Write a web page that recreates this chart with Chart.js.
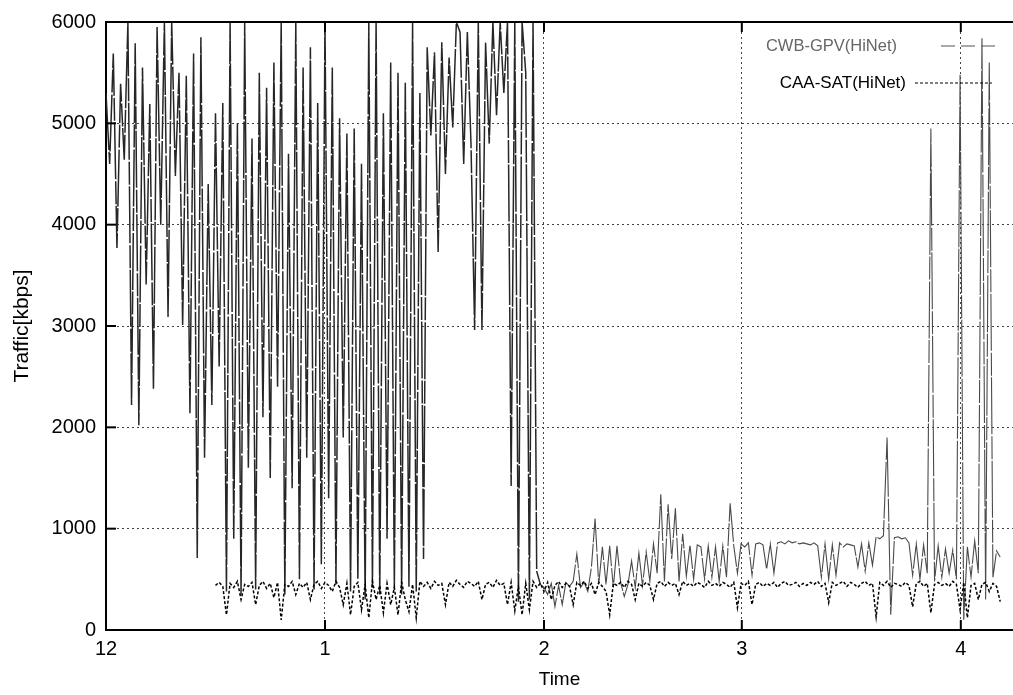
<!DOCTYPE html>
<html>
<head>
<meta charset="utf-8">
<script src="https://cdn.jsdelivr.net/npm/chart.js@4.4.1/dist/chart.umd.min.js"></script>
<style>
  html, body { margin: 0; padding: 0; background: #fff; }
  #c { display: block; }
</style>
</head>
<body>
<canvas id="c" width="1013" height="695"></canvas>
<script>
// time axis: 1 unit ~ 1 minute, ticks are where the clock hours fall
var xTickVals = [0, 60, 120, 174.2, 234.2];
var xTickLabels = ['12', '1', '2', '3', '4'];

// CWB-GPV(HiNet), one sample per unit starting at 0
var cwbStart = 0;
var cwbValues = [
  5300, 4600, 5690, 3770, 5390, 4640, 6000, 2220, 5790, 2020,
  5550, 3410, 5190, 2380, 5950, 4000, 6000, 3090, 6000, 4480,
  5500, 3010, 5470, 2140, 5690, 710, 5850, 1700, 4400, 2220,
  5100, 2600, 5200, 380, 6000, 900, 5000, 350, 6000, 1600,
  4850, 400, 5500, 2100, 5350, 1500, 5600, 2400, 6000, 350,
  4700, 1400, 6000, 500, 5550, 1700, 5750, 400, 5200, 650,
  6000, 1300, 5550, 450, 5050, 1900, 4900, 380, 4950, 500,
  4600, 300, 6000, 420, 6000, 350, 5100, 900, 5600, 400,
  5500, 350, 5400, 420, 6000, 380, 5300, 700, 5750, 4880,
  5700, 3730, 5800, 4500, 5650, 4960, 6000, 5900, 4600, 5900,
  4800, 2960, 6000, 2960, 5800, 4800, 6000, 5080, 6000, 5300,
  6000, 1420, 6000, 280, 6000, 5500, 300, 6000, 580, 450,
  420, 350, 460, 230, 440, 250, 470, 430, 480, 750,
  420, 470, 380, 620, 1100, 450, 820, 450, 830, 420,
  830, 470, 330, 450, 680, 420, 760, 440, 770, 480,
  850, 560, 1340, 480, 1240, 700, 1200, 480, 950, 530,
  840, 500, 840, 820, 500, 830, 520, 820, 480, 830,
  520, 1250, 830, 560, 850, 820, 860, 540, 850, 860,
  840, 600, 850, 560, 860, 870, 850, 880, 860, 870,
  850, 860, 850, 840, 860, 830, 520, 850, 500, 840,
  540, 860, 820, 850, 840, 830, 620, 850, 580, 860,
  640, 920, 900, 930, 1900, 150, 910, 920, 900, 910,
  860, 540, 850, 500, 840, 560, 4950, 480, 830, 520,
  800, 560, 790, 500, 5480, 100, 820, 520, 880, 560,
  5840, 300, 5600, 520, 780, 720
];

// CAA-SAT(HiNet), starts later
var caaStart = 30;
var caaValues = [
  440, 470, 430, 150, 460, 420, 480, 300, 450, 430,
  470, 250, 440, 480, 410, 460, 320, 470, 100, 450,
  430, 480, 350, 460, 420, 470, 300, 450, 480, 410,
  470, 440, 380, 480, 420, 250, 460, 150, 430, 470,
  200, 450, 120, 480, 300, 440, 170, 460, 250, 420,
  150, 470, 300, 180, 450, 120, 480, 430, 470, 410,
  480, 440, 460, 250, 470, 430, 490, 450, 420, 480,
  460, 430, 480, 300, 450, 470, 420, 490, 440, 460,
  250, 470, 190, 430, 150, 460, 200, 480, 420, 460,
  380, 470, 300, 440, 480, 420, 460, 430, 250, 470,
  440, 480, 410, 460, 350, 470, 430, 380, 150, 460,
  440, 470, 420, 480, 450, 300, 460, 430, 470, 440,
  300, 460, 480, 430, 470, 440, 460, 350, 480, 440,
  460, 430, 470, 450, 420, 480, 440, 460, 430, 470,
  450, 420, 470, 220, 460, 440, 480, 250, 450, 470,
  430, 460, 440, 470, 420, 460, 480, 440, 450, 470,
  430, 460, 440, 470, 450, 480, 430, 460, 270, 470,
  440, 460, 480, 430, 470, 450, 420, 460, 480, 440,
  460, 130, 470, 440, 480, 420, 460, 450, 430, 470,
  440, 230, 460, 480, 430, 460, 170, 450, 470, 440,
  460, 430, 480, 450, 200, 470, 120, 440, 460, 300,
  450, 470, 380, 460, 430, 280
];

function toPoints(start, vals) {
  return vals.map(function (v, i) { return { x: start + i, y: v }; });
}

var whiteBg = {
  id: 'whiteBg',
  beforeDraw: function (chart) {
    var ctx = chart.ctx;
    ctx.save();
    ctx.fillStyle = '#fff';
    ctx.fillRect(0, 0, chart.width, chart.height);
    ctx.restore();
  }
};

// frame (no right edge, it is cut off), inward ticks, legend top right
var frame = {
  id: 'frame',
  afterDraw: function (chart) {
    var ctx = chart.ctx, a = chart.chartArea;
    var xs = chart.scales.x, ys = chart.scales.y;
    ctx.save();
    ctx.strokeStyle = '#000';
    ctx.lineWidth = 2;
    ctx.beginPath();
    ctx.moveTo(a.left, a.top); ctx.lineTo(a.right, a.top);
    ctx.stroke();
    ys.ticks.forEach(function (t) {
      var p = ys.getPixelForValue(t.value);
      ctx.beginPath(); ctx.moveTo(a.left, p); ctx.lineTo(a.left + 10, p); ctx.stroke();
    });
    xs.ticks.forEach(function (t) {
      var p = xs.getPixelForValue(t.value);
      ctx.beginPath(); ctx.moveTo(p, a.bottom); ctx.lineTo(p, a.bottom - 10); ctx.stroke();
      ctx.beginPath(); ctx.moveTo(p, a.top); ctx.lineTo(p, a.top + 10); ctx.stroke();
    });

    var ds = chart.data.datasets;
    ctx.textAlign = 'right';
    ctx.textBaseline = 'middle';
    var rows = [
      { d: ds[0], size: 16.5, tx: a.right - 116, y: a.top + 24, x1: a.right - 72, x2: a.right - 18, dash: [14, 6] },
      { d: ds[1], size: 17, tx: a.right - 107, y: a.top + 61, x1: a.right - 98, x2: a.right - 21, dash: [3, 2] }
    ];
    rows.forEach(function (r) {
      ctx.font = r.size + 'px "Liberation Sans", Arial, sans-serif';
      ctx.fillStyle = r.d.legendText;
      ctx.fillText(r.d.label, r.tx, r.y);
      ctx.strokeStyle = r.d.legendLine;
      ctx.lineWidth = 1.2;
      ctx.setLineDash(r.dash);
      ctx.beginPath(); ctx.moveTo(r.x1, r.y); ctx.lineTo(r.x2, r.y); ctx.stroke();
      ctx.setLineDash([]);
    });
    ctx.restore();
  }
};

var tickFont = { family: '"Liberation Sans", Arial, sans-serif', size: 20 };

new Chart(document.getElementById('c').getContext('2d'), {
  type: 'line',
  data: {
    datasets: [{
      label: 'CWB-GPV(HiNet)',
      data: toPoints(cwbStart, cwbValues),
      borderColor: '#262626',
      borderWidth: 1.5,
      borderDash: [57, 2, 23, 1.5],
      segment: {
        // the quiet tail after 2 o'clock is printed lighter in the scan
        borderColor: function (c) { return c.p0.parsed.x >= 119 ? '#4a4a4a' : undefined; },
        borderWidth: function (c) { return c.p0.parsed.x >= 119 ? 1.1 : undefined; }
      },
      legendText: '#666',
      legendLine: '#555',
      pointRadius: 0,
      order: 2
    }, {
      label: 'CAA-SAT(HiNet)',
      data: toPoints(caaStart, caaValues),
      borderColor: '#000',
      borderWidth: 1.5,
      borderDash: [3, 2],
      legendText: '#000',
      legendLine: '#000',
      pointRadius: 0,
      order: 1
    }]
  },
  options: {
    responsive: false,
    animation: false,
    events: [],
    layout: { padding: { top: 17, right: 0, left: 0, bottom: 0 } },
    elements: { line: { tension: 0 } },
    plugins: { legend: { display: false }, tooltip: { enabled: false } },
    scales: {
      x: {
        type: 'linear',
        min: 0,
        max: 248.5,
        afterBuildTicks: function (scale) {
          scale.ticks = xTickVals.map(function (v) { return { value: v }; });
        },
        afterFit: function (scale) { scale.height = 65; },
        ticks: {
          autoSkip: false,
          maxRotation: 0,
          padding: 7,
          color: '#000',
          font: tickFont,
          callback: function (v) {
            var k = xTickVals.indexOf(v);
            return k < 0 ? '' : xTickLabels[k];
          }
        },
        grid: { color: '#444', lineWidth: 1, drawTicks: false },
        border: { display: true, color: '#000', width: 2, dash: [2, 3] },
        title: { display: true, text: 'Time', color: '#000', font: { family: '"Liberation Sans", Arial, sans-serif', size: 19 }, padding: { top: 0, bottom: 4 } }
      },
      y: {
        min: 0,
        max: 6000,
        afterFit: function (scale) { scale.width = 106; },
        ticks: {
          stepSize: 1000,
          padding: 10,
          color: '#000',
          font: tickFont,
          callback: function (v) { return String(v); }
        },
        grid: { color: '#444', lineWidth: 1, drawTicks: false },
        border: { display: true, color: '#000', width: 2, dash: [2, 3] },
        title: { display: true, text: 'Traffic[kbps]', color: '#000', font: { family: '"Liberation Sans", Arial, sans-serif', size: 21 }, padding: { top: 10, bottom: 0 } }
      }
    }
  },
  plugins: [whiteBg, frame]
});
</script>
</body>
</html>
